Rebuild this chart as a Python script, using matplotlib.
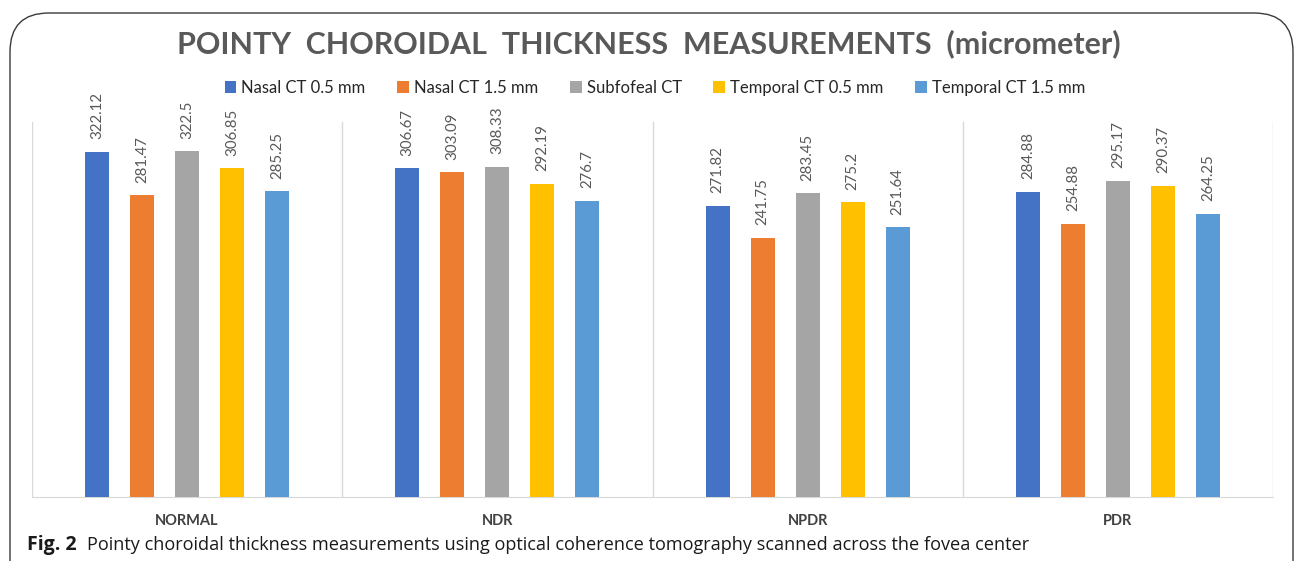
import matplotlib
matplotlib.use("Agg")
import matplotlib.pyplot as plt
from matplotlib.patches import Patch, FancyBboxPatch
import numpy as np

categories = ["NORMAL", "NDR", "NPDR", "PDR"]
series_names = ["Nasal CT 0.5 mm", "Nasal CT 1.5 mm", "Subfofeal CT",
                "Temporal CT 0.5 mm", "Temporal CT 1.5 mm"]
nasal_05 = [322.12, 306.67, 271.82, 284.88]
nasal_15 = [281.47, 303.09, 241.75, 254.88]
subfoveal = [322.5, 308.33, 283.45, 295.17]
temporal_05 = [306.85, 292.19, 275.2, 290.37]
temporal_15 = [285.25, 276.7, 251.64, 264.25]
series_values = [nasal_05, nasal_15, subfoveal, temporal_05, temporal_15]
colors = ["#4472C4", "#ED7D31", "#A5A5A5", "#FFC000", "#5B9BD5"]

title = "POINTY  CHOROIDAL  THICKNESS  MEASUREMENTS  (micrometer)"
caption_bold = "Fig. 2"
caption_text = "Pointy choroidal thickness measurements using optical coherence tomography scanned across the fovea center"

W, H = 1295, 561
fig = plt.figure(figsize=(W / 100, H / 100), dpi=100)
fig.patch.set_facecolor("white")

# rounded border box (open at bottom, clipped by figure edge)
box = FancyBboxPatch((10 / W, -0.2), (1293 - 10) / W, (H - 13) / H + 0.2,
                     boxstyle="round,pad=0,rounding_size=0.03",
                     transform=fig.transFigure, fill=False,
                     edgecolor="#3a3a3a", linewidth=1.0, mutation_aspect=W / H)
fig.patches.append(box)

ax = fig.add_axes([32 / W, 64 / H, (1273 - 32) / W, 375 / H])
x = np.arange(len(categories))
spacing = 0.145
width = 0.077
for i, (vals, c) in enumerate(zip(series_values, colors)):
    pos = x + (i - 2) * spacing
    ax.bar(pos, vals, width=width, color=c, zorder=3)
    for p, v in zip(pos, vals):
        ax.annotate(f"{v:g}", (p, v), xytext=(0, 9), textcoords="offset points",
                    rotation=90, ha="center", va="bottom", fontsize=10.8,
                    color="#595959", family="Lato")

ax.set_xlim(-0.5, len(categories) - 0.5)
ax.set_ylim(0, 350)
ax.set_yticks([])
ax.set_xticks(x)
ax.set_xticklabels(categories, fontsize=10.5, fontweight="bold", color="#404040",
                   family="Lato")
ax.tick_params(axis="x", length=0, pad=12)
for s in ["top", "right", "left"]:
    ax.spines[s].set_visible(False)
ax.spines["bottom"].set_color("#D9D9D9")
for b in np.arange(-0.5, len(categories), 1.0):
    ax.axvline(b, color="#D9D9D9", lw=1, zorder=1)

fig.text(649 / W, 1 - 44 / H, title, ha="center", va="center", fontsize=21.9,
         fontweight="bold", color="#595959", family="Lato")

handles = [Patch(facecolor=c, edgecolor="none") for c in colors]
fig.legend(handles, series_names, loc="center", bbox_to_anchor=(655 / W, 1 - 88 / H),
           ncol=5, frameon=False, prop={"family": "Lato", "size": 12},
           handlelength=0.7, handleheight=0.7, handletextpad=0.3, columnspacing=1.9,
           labelcolor="#262626")

t1 = fig.text(27 / W, 1 - 550 / H, caption_bold, ha="left", va="baseline",
              fontsize=14, fontweight="bold", color="#1a1a1a", family="Open Sans")
fig.canvas.draw()
bb = t1.get_window_extent()
fig.text((bb.x1 + 10) / W, 1 - 550 / H, caption_text, ha="left", va="baseline",
         fontsize=13.1, color="#1a1a1a", family="Open Sans")

fig.savefig("out.png", dpi=100)
